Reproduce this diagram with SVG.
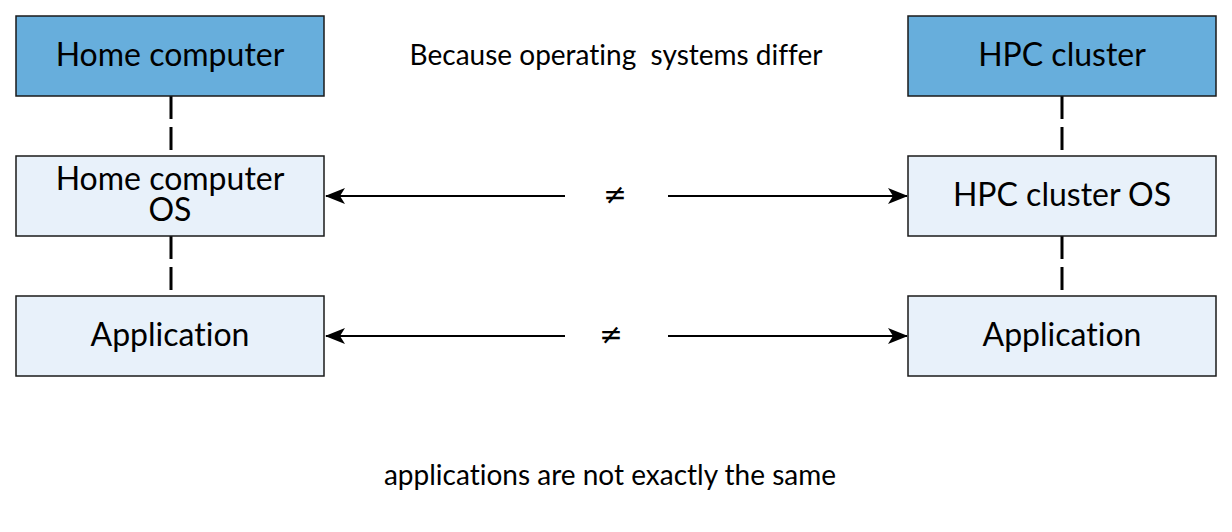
<svg xmlns="http://www.w3.org/2000/svg" width="1232" height="532" viewBox="0 0 1232 532">
<style>
.box{stroke:#1a1a1a;stroke-width:1.5}
.dark{fill:#67aedc}
.light{fill:#e8f1fa}
.t{font-family:Lato,"Liberation Sans",sans-serif;fill:#000;text-anchor:middle;font-variant-ligatures:none;font-feature-settings:"liga" 0,"clig" 0}
.big{font-size:32px}
.small{font-size:28px}
.ne{font-family:"DejaVu Sans",sans-serif;font-size:28px;fill:#000;text-anchor:middle}
.dash{stroke:#000;stroke-width:3;stroke-dasharray:23 8;fill:none}
.arr{stroke:#000;stroke-width:2;fill:none}
</style>
<defs>
<marker id="ah" viewBox="0 0 20 16" refX="19" refY="8" markerWidth="20" markerHeight="16" markerUnits="userSpaceOnUse" orient="auto-start-reverse">
<path d="M0,0 L20,8 L0,16 L5,8 Z" fill="#000"/>
</marker>
</defs>
<rect width="1232" height="532" fill="#fff"/>
<g id="connectors">
<line class="dash" x1="171" y1="96" x2="171" y2="156"/>
<line class="dash" x1="171" y1="236" x2="171" y2="296"/>
<line class="dash" x1="1062" y1="96" x2="1062" y2="156"/>
<line class="dash" x1="1062" y1="236" x2="1062" y2="296"/>
<line class="arr" x1="565" y1="196" x2="326" y2="196" marker-end="url(#ah)"/>
<line class="arr" x1="668" y1="196" x2="907" y2="196" marker-end="url(#ah)"/>
<line class="arr" x1="565" y1="336" x2="326" y2="336" marker-end="url(#ah)"/>
<line class="arr" x1="668" y1="336" x2="907" y2="336" marker-end="url(#ah)"/>
<text class="ne" x="615" y="204">≠</text>
<text class="ne" x="611" y="344">≠</text>
</g>
<g id="home">
<rect class="box dark" x="16" y="16" width="308" height="80"/>
<text class="t big" x="170" y="66">Home computer</text>
</g>
<g id="home-os">
<rect class="box light" x="16" y="156" width="308" height="80"/>
<text class="t big" x="170" y="190">Home computer</text>
<text class="t big" x="170" y="221">OS</text>
</g>
<g id="home-app">
<rect class="box light" x="16" y="296" width="308" height="80"/>
<text class="t big" x="170" y="346">Application</text>
</g>
<g id="hpc">
<rect class="box dark" x="908" y="16" width="308" height="80"/>
<text class="t big" x="1062" y="66">HPC cluster</text>
</g>
<g id="hpc-os">
<rect class="box light" x="908" y="156" width="308" height="80"/>
<text class="t big" x="1062" y="206">HPC cluster OS</text>
</g>
<g id="hpc-app">
<rect class="box light" x="908" y="296" width="308" height="80"/>
<text class="t big" x="1062" y="346">Application</text>
</g>
<g id="labels">
<text class="t small" x="616" y="65" xml:space="preserve">Because operating  systems differ</text>
<text class="t small" x="610" y="485">applications are not exactly the same</text>
</g>
</svg>
